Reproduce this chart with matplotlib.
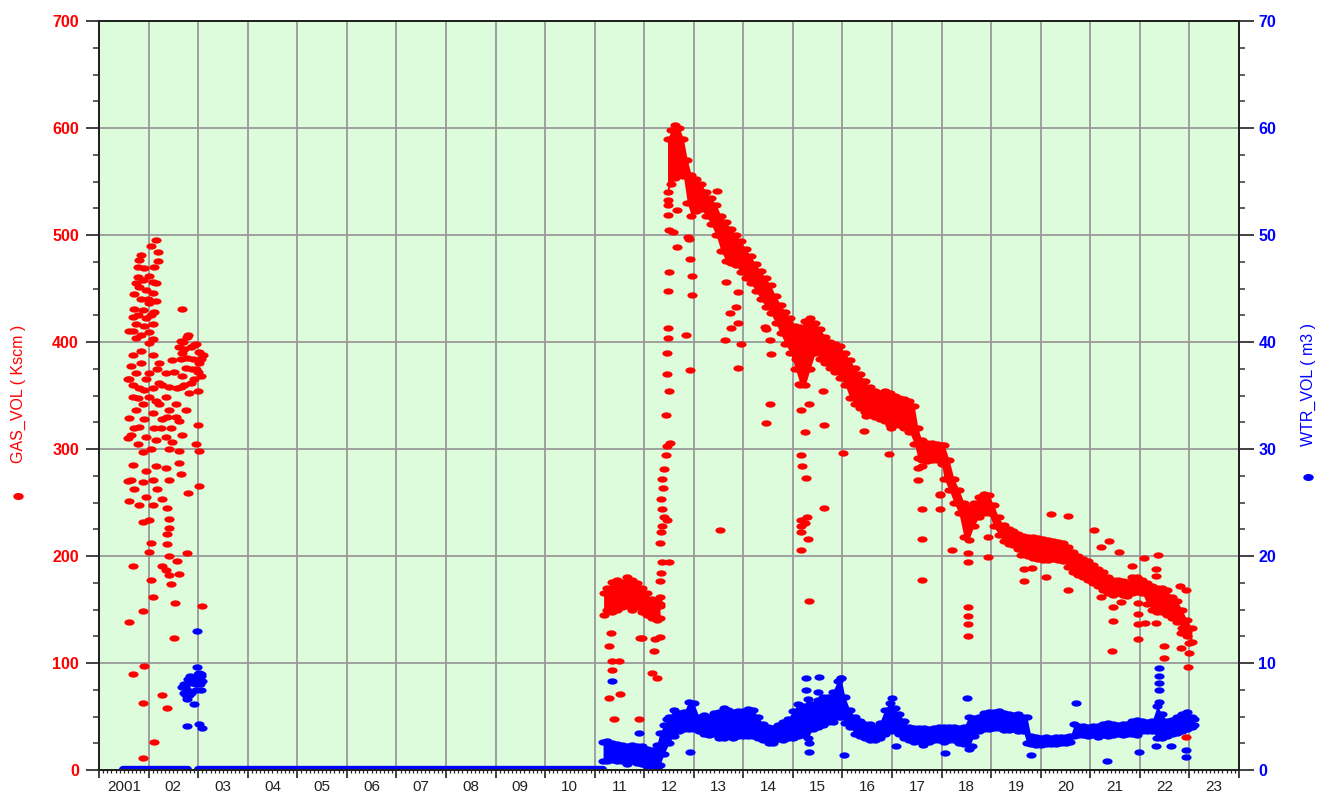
import numpy as np
import matplotlib.pyplot as plt
from matplotlib.path import Path
from matplotlib.lines import Line2D
import matplotlib.transforms as mtransforms
from matplotlib.ticker import MultipleLocator

plt.rcParams["font.family"] = ["Liberation Sans", "DejaVu Sans"]

# ---------------- data ----------------
year_ticks = list(range(2001, 2025))
year_labels = ["2001", "02", "03", "04", "05", "06", "07", "08", "09", "10", "11", "12",
               "13", "14", "15", "16", "17", "18", "19", "20", "21", "22", "23"]

# gas 2001-2003, single readings
gas01_t = [2002.15, 2002.05, 2002.20, 2001.85, 2002.20, 2001.81, 2001.78, 2001.91, 2002.01, 2001.78,
           2002.08, 2001.81, 2001.95, 2002.08, 2002.15, 2002.01, 2002.67, 2001.71, 2001.88, 2002.11,
           2001.68, 2001.95, 2001.74, 2002.08, 2001.68, 2001.85, 2002.01, 2001.74, 2002.08, 2002.01,
           2002.79, 2002.65, 2002.92, 2002.72, 2003.02, 2003.09, 2002.65, 2002.89, 2003.02, 2002.75,
           2002.95, 2002.68, 2003.05, 2002.85, 2002.99, 2002.82, 2002.65, 2002.70, 2002.85, 2002.78,
           2003.00, 2002.92, 2002.72,
           2001.68, 2002.08, 2002.48, 2001.64, 2001.85, 2002.21, 2001.74, 2002.01, 2002.35, 2001.61,
           2001.95, 2002.21, 2001.81, 2002.08, 2002.42, 2002.58, 2001.68, 2002.01, 2002.35, 2001.88,
           2002.21, 2002.55, 2001.74, 2002.08, 2002.42, 2002.75, 2001.61, 2001.91, 2002.28, 2002.62,
           2001.81, 2002.11, 2002.45, 2002.99, 2001.64, 2001.95, 2002.35, 2002.68, 2001.78, 2002.15,
           2002.48, 2002.95, 2001.88, 2002.62, 2003.02, 2001.58, 2001.58, 2001.60, 2001.58,
           2001.68, 2002.15, 2002.35, 2002.62, 2001.95, 2002.65, 2001.64, 2001.88, 2002.08, 2002.42,
           2003.02, 2001.71, 2002.18, 2002.79, 2001.61, 2001.95, 2002.28, 2001.81, 2002.08, 2002.38,
           2001.88, 2002.01, 2002.42, 2002.42, 2002.38, 2002.05, 2002.38, 2002.00, 2002.77, 2002.42,
           2002.58, 2001.68, 2002.28, 2002.35, 2002.62, 2002.42, 2002.45, 2002.05, 2002.08, 2002.54,
           2003.07, 2001.88, 2001.61, 2002.52, 2001.91, 2001.68, 2002.28, 2001.88, 2002.37, 2002.11,
           2001.88,
           2001.74, 2001.88, 2002.11, 2001.85, 2001.71, 2002.05, 2001.78, 2001.91, 2001.98, 2002.15,
           2001.68, 2001.78, 2001.91, 2002.15, 2002.28, 2002.25, 2002.38, 2001.71, 2002.05, 2002.42,
           2002.55, 2002.18, 2001.85, 2002.52, 2002.62, 2002.95, 2003.05, 2002.88, 2002.78, 2002.68]
gas01_v = [495, 490, 484, 481, 476, 477, 470, 469, 462, 461,
           456, 451, 449, 446, 438, 436, 431, 431, 430, 428,
           423, 422, 417, 417, 410, 407, 409, 404, 403, 399,
           407, 401, 397, 393, 391, 388, 384, 384, 380, 376,
           375, 368, 368, 362, 354, 352, 358, 400, 395, 385,
           372, 365, 360,
           388, 388, 383, 378, 380, 380, 371, 371, 371, 365,
           365, 362, 357, 357, 358, 357, 349, 349, 349, 342,
           342, 342, 336, 334, 336, 336, 329, 328, 328, 326,
           321, 320, 320, 322, 313, 311, 311, 313, 305, 308,
           307, 305, 297, 298, 298, 310, 270, 410, 365,
           285, 284, 282, 287, 279, 277, 271, 269, 271, 271,
           265, 263, 263, 259, 251, 255, 253, 248, 248, 245,
           232, 234, 235, 226, 221, 212, 211, 204, 203, 200,
           195, 191, 191, 187, 183, 182, 174, 178, 162, 156,
           153, 149, 138, 123, 97, 90, 70, 63, 58, 26,
           11,
           455, 458, 470, 440, 445, 425, 425, 415, 440, 455,
           360, 348, 355, 345, 360, 320, 330, 320, 300, 300,
           330, 375, 392, 372, 395, 398, 384, 375, 405, 390]

# water 2002-2003 cluster
wtr02_t = [2002.97, 2002.98, 2003.05, 2002.88, 2002.78, 2002.71, 2003.08, 2002.95, 2002.78, 2002.91,
           2003.01, 2002.84, 2002.74, 2003.05, 2002.78, 2003.01, 2003.08, 2002.68, 2002.82, 2002.92,
           2002.71, 2002.80, 2002.86, 2002.95, 2002.99, 2003.03, 2002.75, 2003.06]
wtr02_v = [13.0, 9.6, 8.8, 8.1, 7.5, 7.2, 8.3, 7.5, 6.6, 6.2,
           9.1, 8.8, 7.8, 7.5, 4.1, 4.3, 3.9, 7.8, 7.0, 8.5,
           8.0, 8.5, 7.2, 8.0, 9.0, 8.0, 7.0, 9.0]

# water at zero (start, end of the runs)
wtr_zero_start = [2001.48, 2003.00]
wtr_zero_end = [2002.80, 2011.17]

# gas plateau 2011-2012 (band edges)
plat_t = [2011.18, 2011.25, 2011.35, 2011.45, 2011.55, 2011.65, 2011.75, 2011.85, 2011.95,
          2012.05, 2012.15, 2012.25, 2012.32]
plat_hi = [165, 170, 176, 178, 176, 180, 178, 175, 170, 165, 160, 158, 155]
plat_lo = [145, 150, 148, 150, 152, 153, 150, 152, 148, 145, 142, 140, 142]

# gas main band 2012.5-2023 (band edges)
band_t = [2012.47, 2012.55, 2012.63, 2012.71, 2012.79, 2012.87, 2012.95, 2013.05, 2013.15, 2013.25,
          2013.35, 2013.45, 2013.55, 2013.65, 2013.75, 2013.85, 2013.95, 2014.05, 2014.15, 2014.25,
          2014.35, 2014.45, 2014.55, 2014.65, 2014.75, 2014.85, 2014.95, 2015.05, 2015.15, 2015.25,
          2015.35, 2015.45, 2015.55, 2015.65, 2015.75, 2015.85, 2015.95, 2016.05, 2016.15, 2016.25,
          2016.35, 2016.45, 2016.55, 2016.65, 2016.75, 2016.85, 2016.95, 2017.05, 2017.15, 2017.25,
          2017.35, 2017.45, 2017.52, 2017.60, 2017.70, 2017.80, 2017.90, 2018.00, 2018.05, 2018.15,
          2018.25, 2018.35, 2018.45, 2018.55, 2018.65, 2018.75, 2018.85, 2018.95, 2019.05, 2019.15,
          2019.25, 2019.35, 2019.45, 2019.55, 2019.65, 2019.75, 2019.85, 2019.95, 2020.05, 2020.15,
          2020.25, 2020.35, 2020.45, 2020.55, 2020.65, 2020.75, 2020.85, 2020.95, 2021.05, 2021.15,
          2021.25, 2021.35, 2021.45, 2021.55, 2021.65, 2021.75, 2021.85, 2021.95, 2022.05, 2022.15,
          2022.25, 2022.35, 2022.45, 2022.55, 2022.65, 2022.75, 2022.85, 2022.95, 2023.05]
gas_hi = [590, 598, 603, 600, 590, 570, 556, 552, 548, 540,
          535, 528, 518, 512, 506, 500, 494, 487, 480, 473,
          466, 460, 453, 443, 435, 428, 422, 415, 414, 420,
          422, 418, 412, 405, 400, 398, 396, 390, 383, 376,
          370, 364, 358, 354, 352, 354, 352, 350, 348, 347,
          345, 340, 320, 308, 306, 306, 305, 304, 304, 290,
          272, 262, 250, 246, 250, 255, 258, 257, 248, 236,
          229, 225, 223, 221, 219, 218, 218, 217, 216, 215,
          214, 213, 212, 208, 204, 200, 197, 195, 192, 188,
          185, 180, 178, 178, 177, 176, 180, 180, 178, 175,
          172, 170, 170, 168, 162, 158, 150, 140, 133]
gas_lo = [540, 548, 553, 557, 555, 530, 518, 522, 524, 518,
          510, 500, 485, 476, 474, 472, 465, 460, 455, 448,
          440, 433, 427, 418, 408, 398, 390, 375, 360, 360,
          375, 390, 384, 380, 376, 372, 366, 360, 348, 342,
          338, 335, 332, 330, 328, 326, 324, 323, 322, 320,
          316, 305, 292, 290, 289, 290, 290, 286, 272, 262,
          250, 240, 218, 215, 228, 236, 240, 240, 228, 220,
          214, 211, 210, 207, 202, 200, 198, 197, 196, 196,
          197, 196, 195, 190, 185, 182, 180, 178, 175, 172,
          168, 165, 164, 165, 164, 163, 165, 166, 165, 155,
          150, 148, 148, 145, 142, 138, 133, 125, 120]

# gas scattered readings 2011-2023
gas_out_t = [2012.32, 2012.32, 2012.31, 2012.34, 2012.36, 2012.32, 2012.34, 2012.36, 2012.39, 2012.36,
             2012.34, 2012.38, 2012.36, 2012.39, 2012.43, 2012.46, 2012.52, 2012.49, 2012.46,
             2011.32, 2011.29, 2011.35, 2011.35, 2011.29, 2011.39, 2011.51, 2011.49, 2011.92, 2011.89,
             2011.96, 2012.16, 2012.26, 2012.19, 2012.22, 2012.32,
             2012.47, 2012.47, 2012.47, 2012.66, 2012.49, 2012.59, 2012.66, 2012.51, 2012.47, 2012.47,
             2012.47, 2012.46, 2012.46, 2012.51, 2012.44, 2012.84, 2012.92, 2012.96, 2012.96, 2012.92,
             2012.91, 2012.89, 2013.46, 2013.66, 2013.89, 2013.73, 2013.86, 2013.89, 2013.75, 2013.63,
             2013.96, 2013.89, 2014.46, 2014.53, 2014.56, 2014.54, 2014.46, 2014.43, 2015.06, 2015.13,
             2015.16, 2015.16, 2015.18, 2015.26, 2015.33, 2015.25, 2015.63, 2015.61, 2016.01, 2016.43,
             2016.48, 2016.97, 2016.93, 2017.52, 2017.52, 2017.97,
             2013.53, 2015.16, 2015.16, 2015.24, 2015.16, 2015.30, 2015.16, 2015.33, 2015.62, 2015.28,
             2017.60, 2017.60, 2017.60, 2017.60, 2017.97, 2017.97, 2018.20, 2018.53, 2018.53, 2018.53,
             2018.53, 2018.53, 2018.53, 2018.93, 2018.93, 2016.96, 2019.61, 2019.67, 2019.67,
             2020.20, 2020.54, 2021.08, 2021.37, 2021.21, 2021.58, 2022.09, 2022.36, 2021.85, 2022.33,
             2022.33, 2022.80, 2022.93, 2020.11, 2020.54, 2019.82, 2021.21, 2021.62, 2021.45, 2021.45,
             2021.96, 2021.96, 2021.96, 2022.11, 2022.33, 2021.96, 2022.49, 2022.49, 2021.44, 2022.83,
             2022.99, 2022.97, 2022.83, 2022.99, 2022.93]
gas_out_v = [153, 162, 177, 184, 194, 212, 222, 228, 236, 244,
             253, 264, 272, 281, 294, 303, 306, 194, 234,
             128, 116, 102, 93, 67, 48, 71, 102, 123, 48,
             123, 91, 86, 111, 122, 124,
             533, 528, 519, 523, 505, 503, 489, 465, 448, 413,
             404, 390, 370, 354, 332, 407, 374, 444, 462, 478,
             496, 498, 541, 456, 447, 427, 433, 418, 413, 402,
             398, 376, 412, 402, 389, 342, 324, 414, 384, 361,
             336, 294, 284, 273, 342, 316, 322, 354, 296, 317,
             331, 320, 295, 282, 271, 257,
             224, 234, 228, 231, 222, 216, 206, 158, 245, 236,
             284, 244, 216, 178, 258, 244, 206, 152, 144, 136,
             125, 203, 194, 218, 199, 322, 201, 188, 177,
             239, 237, 224, 214, 208, 204, 198, 201, 191, 188,
             181, 172, 168, 180, 168, 189, 162, 157, 152, 139,
             156, 146, 136, 137, 137, 122, 116, 105, 111, 114,
             109, 96, 128, 119, 31]

# water band 2011-2023 (band edges)
wtr_t = [2011.17, 2011.25, 2011.35, 2011.45, 2011.55, 2011.65, 2011.75, 2011.85, 2011.95, 2012.05,
         2012.15, 2012.25, 2012.32, 2012.40, 2012.50, 2012.60, 2012.70, 2012.80, 2012.90, 2013.00,
         2013.10, 2013.20, 2013.30, 2013.40, 2013.50, 2013.60, 2013.70, 2013.80, 2013.90, 2014.00,
         2014.10, 2014.20, 2014.30, 2014.40, 2014.50, 2014.60, 2014.70, 2014.80, 2014.90, 2015.00,
         2015.10, 2015.20, 2015.30, 2015.40, 2015.50, 2015.60, 2015.70, 2015.80, 2015.90, 2015.97,
         2016.05, 2016.15, 2016.25, 2016.35, 2016.45, 2016.55, 2016.65, 2016.75, 2016.85, 2016.95,
         2017.05, 2017.15, 2017.25, 2017.35, 2017.45, 2017.55, 2017.65, 2017.75, 2017.85, 2017.95,
         2018.05, 2018.15, 2018.25, 2018.35, 2018.45, 2018.55, 2018.65, 2018.75, 2018.85, 2018.95,
         2019.05, 2019.15, 2019.25, 2019.35, 2019.45, 2019.55, 2019.65, 2019.72, 2019.80, 2019.90,
         2020.00, 2020.10, 2020.20, 2020.30, 2020.40, 2020.50, 2020.60, 2020.68, 2020.75, 2020.85,
         2020.95, 2021.05, 2021.15, 2021.25, 2021.35, 2021.45, 2021.55, 2021.65, 2021.75, 2021.85,
         2021.95, 2022.05, 2022.15, 2022.25, 2022.35, 2022.45, 2022.55, 2022.65, 2022.75, 2022.85,
         2022.95, 2023.05, 2023.10]
wtr_lo = [0.8, 0.8, 0.9, 0.8, 0.8, 0.6, 0.8, 0.7, 0.6, 0.4,
          0.3, 0.2, 0.5, 1.5, 2.5, 3.2, 3.6, 3.8, 3.8, 3.8,
          3.6, 3.4, 3.3, 3.4, 3.0, 3.0, 3.2, 3.0, 3.2, 3.2,
          3.2, 3.2, 3.0, 2.8, 2.8, 2.5, 2.9, 2.8, 3.0, 3.0,
          3.2, 3.3, 3.0, 3.8, 4.0, 4.2, 4.5, 4.5, 5.0, 5.0,
          4.4, 4.0, 3.4, 3.2, 3.0, 2.8, 2.8, 3.0, 3.4, 3.6,
          3.6, 3.4, 3.0, 2.8, 2.6, 2.7, 2.6, 2.6, 2.8, 2.8,
          2.6, 2.8, 2.8, 2.5, 2.4, 2.0, 3.2, 3.6, 3.8, 3.8,
          3.9, 3.9, 3.7, 3.7, 3.8, 3.6, 3.6, 2.5, 2.4, 2.3,
          2.3, 2.4, 2.4, 2.4, 2.5, 2.5, 2.6, 3.2, 3.3, 3.3,
          3.2, 3.3, 3.1, 3.3, 3.2, 3.3, 3.4, 3.3, 3.4, 3.4,
          3.3, 3.6, 3.6, 3.6, 3.0, 3.0, 3.2, 3.4, 3.5, 3.6,
          3.8, 4.0, 4.2]
wtr_hi = [2.6, 2.7, 2.5, 2.4, 2.3, 2.2, 2.3, 2.2, 2.2, 2.0,
          1.9, 2.3, 3.5, 4.2, 5.0, 5.6, 5.3, 5.4, 6.4, 6.3,
          5.0, 5.1, 5.0, 5.3, 5.4, 5.8, 5.6, 5.4, 5.5, 5.5,
          5.7, 5.6, 5.0, 4.3, 4.0, 3.9, 4.2, 4.5, 4.8, 5.5,
          6.2, 6.0, 6.6, 6.2, 6.5, 6.8, 6.8, 7.3, 8.3, 8.6,
          6.8, 5.6, 5.0, 4.6, 4.3, 4.3, 4.0, 4.4, 5.6, 6.3,
          5.8, 5.2, 4.6, 4.0, 3.9, 3.9, 3.9, 3.8, 3.9, 4.0,
          4.0, 4.0, 4.0, 3.9, 4.0, 5.0, 4.9, 5.0, 5.3, 5.4,
          5.4, 5.5, 5.3, 5.2, 5.1, 5.2, 5.0, 5.0, 3.2, 3.1,
          3.0, 3.1, 3.0, 3.1, 3.1, 3.1, 3.2, 4.3, 4.1, 4.1,
          4.0, 4.1, 4.1, 4.3, 4.4, 4.3, 4.2, 4.3, 4.3, 4.6,
          4.7, 4.6, 4.5, 4.6, 6.0, 5.2, 4.6, 4.7, 5.0, 5.2,
          5.4, 5.0, 4.8]

# water scattered readings
wtr_out_t = [2011.35, 2011.89, 2011.69, 2012.46, 2012.93, 2015.33, 2015.33, 2016.03, 2017.00, 2017.07,
             2018.07, 2018.51, 2015.27, 2015.53, 2015.27, 2015.50, 2015.97, 2020.71, 2021.34, 2022.38,
             2022.38, 2022.38, 2022.38, 2022.38, 2022.93, 2022.93, 2022.33, 2022.63, 2021.99, 2019.81,
             2018.62, 2017.62, 2014.52]
wtr_out_v = [8.3, 3.5, 0.9, 4.8, 1.7, 2.5, 1.7, 1.4, 6.7, 2.2,
             1.6, 6.7, 8.6, 8.7, 7.5, 7.3, 8.6, 6.3, 0.8, 9.5,
             8.75, 8.1, 7.5, 6.4, 1.9, 1.25, 2.2, 2.2, 1.7, 1.4,
             2.2, 2.3, 2.5]

# ---------------- drawing ----------------
RED = "#ff0000"
BLUE = "#0000ff"
ell = Path.unit_circle().transformed(mtransforms.Affine2D().scale(1.0, 0.62))
ms = 54

fig = plt.figure(figsize=(13.17, 7.94), dpi=100)
ax1 = fig.add_axes([99 / 1317, 24 / 794, 1140 / 1317, 749 / 794])
ax2 = ax1.twinx()

ax1.set_facecolor("#dcfcdc")
ax1.set_axisbelow(True)

# gas
ax1.fill_between(plat_t, plat_lo, plat_hi, color=RED, lw=0)
ax1.scatter(plat_t, plat_hi, s=ms, marker=ell, color=RED, lw=0)
ax1.scatter(plat_t, plat_lo, s=ms, marker=ell, color=RED, lw=0)
ax1.fill_between(band_t, gas_lo, gas_hi, color=RED, lw=0)
ax1.scatter(band_t, gas_hi, s=ms, marker=ell, color=RED, lw=0)
ax1.scatter(band_t, gas_lo, s=ms, marker=ell, color=RED, lw=0)
ax1.scatter(gas01_t, gas01_v, s=ms, marker=ell, color=RED, lw=0)
ax1.scatter(gas_out_t, gas_out_v, s=ms, marker=ell, color=RED, lw=0)

# water
ax2.hlines([0] * len(wtr_zero_start), wtr_zero_start, wtr_zero_end, color=BLUE, lw=6,
           capstyle="round")
ax2.fill_between(wtr_t, wtr_lo, wtr_hi, color=BLUE, lw=0)
ax2.scatter(wtr_t, wtr_hi, s=ms, marker=ell, color=BLUE, lw=0)
ax2.scatter(wtr_t, wtr_lo, s=ms, marker=ell, color=BLUE, lw=0)
ax2.scatter(wtr02_t, wtr02_v, s=ms, marker=ell, color=BLUE, lw=0)
ax2.scatter(wtr_out_t, wtr_out_v, s=ms, marker=ell, color=BLUE, lw=0)

# axes ranges and ticks
ax1.set_xlim(2001, 2024)
ax1.set_ylim(0, 700)
ax2.set_ylim(0, 70)
ax1.set_xticks(year_ticks)
ax1.set_xticklabels([])
ax1.xaxis.set_minor_locator(MultipleLocator(1 / 12))
ax1.yaxis.set_major_locator(MultipleLocator(100))
ax1.yaxis.set_minor_locator(MultipleLocator(25))
ax2.yaxis.set_major_locator(MultipleLocator(10))
ax2.yaxis.set_minor_locator(MultipleLocator(2.5))

ax1.grid(True, which="major", color="#999999", lw=1.3)
ax1.tick_params(axis="x", which="major", length=6, width=1.2, direction="out", color="#222222")
ax1.tick_params(axis="x", which="minor", length=2.5, width=0.9, direction="out", color="#222222")
ax1.tick_params(axis="y", which="major", length=9.5, width=1.3, pad=5, color="#333333",
                labelcolor=RED, labelsize=11.5)
ax1.tick_params(axis="y", which="minor", length=4.5, width=1.1, color="#333333")
ax2.tick_params(axis="y", which="major", length=10.5, width=1.3, pad=3.5, color="#333333",
                labelcolor=BLUE, labelsize=11.5)
ax2.tick_params(axis="y", which="minor", length=4.5, width=1.1, color="#333333")
for lab in ax1.get_yticklabels() + ax2.get_yticklabels():
    lab.set_fontweight("bold")

for ax in (ax1, ax2):
    for sp in ax.spines.values():
        sp.set_color("#222222")
        sp.set_linewidth(1.4)

# year labels in the middle of each year
tr = mtransforms.blended_transform_factory(ax1.transData, fig.transFigure)
for y, lab in zip(year_ticks, year_labels):
    ax1.text(y + 0.5, 7 / 794, lab, transform=tr, ha="center", va="center",
             fontsize=11, color="#222222")

# axis titles with their markers
fig.text(18.5 / 1317, 1 - 394 / 794, "GAS_VOL ( Kscm )", rotation=90, ha="center",
         va="center", color=RED, fontsize=11.5)
fig.add_artist(Line2D([18 / 1317], [1 - 496 / 794], transform=fig.transFigure, marker=ell,
                      markersize=6.5, color=RED, lw=0))
fig.text(1308 / 1317, 1 - 384 / 794, "WTR_VOL ( m3 )", rotation=90, ha="center",
         va="center", color=BLUE, fontsize=11.5)
fig.add_artist(Line2D([1308 / 1317], [1 - 477 / 794], transform=fig.transFigure, marker=ell,
                      markersize=6.5, color=BLUE, lw=0))

fig.savefig("out.png", dpi=100)
